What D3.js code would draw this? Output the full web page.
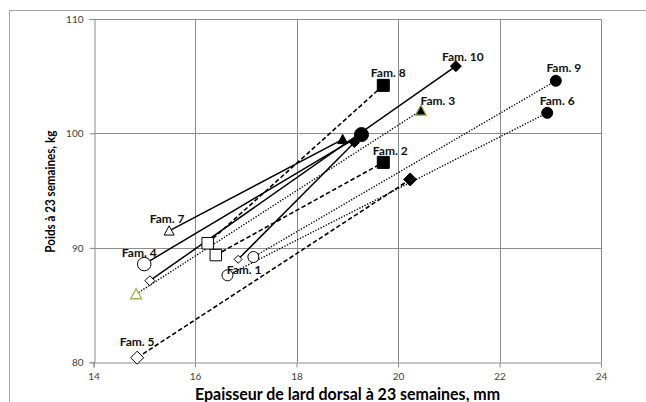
<!DOCTYPE html>
<html>
<head>
<meta charset="utf-8">
<script src="https://cdn.jsdelivr.net/npm/d3@7"></script>
<style>
  html, body { margin: 0; padding: 0; background: #fff; }
  svg { display: block; font-family: Lato, "Liberation Sans", sans-serif; }
</style>
</head>
<body>
<svg id="chart" width="646" height="402"></svg>
<script>
// ---- data ----
const families = ["Fam. 1", "Fam. 2", "Fam. 3", "Fam. 4", "Fam. 5", "Fam. 6", "Fam. 7", "Fam. 8", "Fam. 9", "Fam. 10"];
// backfat thickness (mm) and weight (kg) at 23 weeks, open-marker end
const backfatOpen = [16.85, 16.41, 14.84, 15.00, 14.86, 16.64, 15.49, 16.25, 17.15, 15.11];
const weightOpen  = [89.0, 89.37, 85.96, 88.58, 80.4, 87.6, 91.49, 90.4, 89.2, 87.13];
// filled-marker end
const backfatFilled = [19.14, 19.71, 20.45, 19.28, 20.24, 22.94, 18.91, 19.71, 23.11, 21.14];
const weightFilled  = [99.2, 97.47, 102.0, 99.9, 95.98, 101.8, 99.48, 104.2, 104.6, 105.88];
const xTicks = [14, 16, 18, 20, 22, 24];
const yTicks = [80, 90, 100, 110];
const xTitle = "Epaisseur de lard dorsal à 23 semaines, mm";
const yTitle = "Poids à 23 semaines, kg";

// ---- styles (per family) ----
const lineStyle = ["solid", "dashed", "dotted", "solid", "dashed", "dotted", "solid", "dashed", "dotted", "solid"];
const shape = ["diamond", "square", "triangle", "circle", "diamond", "circle", "triangle", "square", "circle", "diamond"];
const sizeOpen   = [8, 11.5, 11, 13.5, 13, 11, 10, 11.5, 11, 10];
const sizeFilled = [10, 12, 11, 14, 13, 11, 10, 12, 11, 11];
const edgeColor  = ["#000", "#000", "#9BBB59", "#000", "#000", "#000", "#000", "#000", "#000", "#000"];
// label attachment: which end and offset in px (centre of text)
const labelEnd = ["open", "filled", "filled", "open", "open", "filled", "open", "filled", "filled", "filled"];
const labelDx = [6, 7, 17, -5, 0, 10, -2, 5, 8, 7];
const labelDy = [10, -12, -10, -11.5, -16, -12, -12.7, -13, -13, -10];

const svg = d3.select("#chart");

// outer chart frame
svg.append("rect").attr("x", 9.5).attr("y", 10.5).attr("width", 700).attr("height", 500)
  .attr("fill", "none").attr("stroke", "#a6a6a6").attr("stroke-width", 1);

const x = d3.scaleLinear().domain([14, 24]).range([93.5, 601]);
const y = d3.scaleLinear().domain([80, 110]).range([362.3, 19]);

// gridlines
const grid = svg.append("g");
grid.selectAll("line.v").data(xTicks.slice(1)).join("line")
  .attr("x1", d => Math.round(x(d)) + 0.5).attr("x2", d => Math.round(x(d)) + 0.5)
  .attr("y1", y(110)).attr("y2", y(80))
  .attr("stroke", "#8c8c8c").attr("stroke-width", 1);
grid.selectAll("line.h").data(yTicks.slice(1)).join("line")
  .attr("y1", d => Math.round(y(d)) + 0.5).attr("y2", d => Math.round(y(d)) + 0.5)
  .attr("x1", x(14)).attr("x2", x(24))
  .attr("stroke", "#8c8c8c").attr("stroke-width", 1);

// axes
const xAxis = d3.axisBottom(x).tickValues(xTicks).tickSize(5).tickPadding(5).tickFormat(d3.format("d"));
const yAxis = d3.axisLeft(y).tickValues(yTicks).tickSize(5).tickPadding(6).tickFormat(d3.format("d"));
const gx = svg.append("g").attr("transform", `translate(0,${Math.round(y(80)) + 0.5})`).call(xAxis);
const gy = svg.append("g").attr("transform", `translate(${Math.round(x(14)) + 0.5},0)`).call(yAxis);
[gx, gy].forEach(g => {
  g.select(".domain").attr("stroke", "#8c8c8c");
  g.selectAll(".tick line").attr("stroke", "#8c8c8c");
  g.selectAll(".tick text").attr("fill", "#404040").style("font-size", "10px").style("font-family", "Lato, sans-serif");
});

// axis titles
svg.append("text").attr("x", 347.5).attr("y", 399.5).attr("text-anchor", "middle")
  .attr("textLength", 305).attr("lengthAdjust", "spacingAndGlyphs")
  .style("font-size", "17px").style("font-weight", "bold").attr("fill", "#000").text(xTitle);
svg.append("text").attr("transform", "translate(55,191.7) rotate(-90)").attr("text-anchor", "middle")
  .attr("textLength", 122).attr("lengthAdjust", "spacingAndGlyphs")
  .style("font-size", "13.5px").style("font-weight", "bold").attr("fill", "#000").text(yTitle);

// series table
const rows = families.map((f, i) => ({
  name: f, i,
  x0: backfatOpen[i], y0: weightOpen[i],
  x1: backfatFilled[i], y1: weightFilled[i]
}));

const dash = { solid: null, dashed: "4.5,2.5", dotted: "1.3,1.6" };
const widthOf = { solid: 1.5, dashed: 1.6, dotted: 1.4 };

svg.append("g").selectAll("line").data(rows).join("line")
  .attr("x1", d => x(d.x0)).attr("y1", d => y(d.y0))
  .attr("x2", d => x(d.x1)).attr("y2", d => y(d.y1))
  .attr("stroke", "#000")
  .attr("stroke-width", d => widthOf[lineStyle[d.i]])
  .attr("stroke-dasharray", d => dash[lineStyle[d.i]]);

function markerPath(kind, cx, cy, s) {
  const h = s / 2;
  if (kind === "diamond") return `M${cx},${cy - h}L${cx + h},${cy}L${cx},${cy + h}L${cx - h},${cy}Z`;
  if (kind === "square") return `M${cx - h},${cy - h}H${cx + h}V${cy + h}H${cx - h}Z`;
  if (kind === "triangle") return `M${cx},${cy - h}L${cx + h},${cy + h * 0.85}L${cx - h},${cy + h * 0.85}Z`;
  // circle
  return `M${cx - h},${cy}A${h},${h} 0 1,0 ${cx + h},${cy}A${h},${h} 0 1,0 ${cx - h},${cy}Z`;
}

const marks = [];
rows.forEach(d => {
  marks.push({ i: d.i, open: true, px: x(d.x0), py: y(d.y0) });
  marks.push({ i: d.i, open: false, px: x(d.x1), py: y(d.y1) });
});
svg.append("g").selectAll("path").data(marks).join("path")
  .attr("d", m => markerPath(shape[m.i], m.px, m.py, m.open ? sizeOpen[m.i] : sizeFilled[m.i]))
  .attr("fill", m => m.open ? "#fff" : "#000")
  .attr("stroke", m => edgeColor[m.i])
  .attr("stroke-width", m => edgeColor[m.i] === "#000" ? 1 : 1.3);

// data labels
svg.append("g").selectAll("text").data(rows).join("text")
  .attr("x", d => (labelEnd[d.i] === "open" ? x(d.x0) : x(d.x1)) + labelDx[d.i])
  .attr("y", d => (labelEnd[d.i] === "open" ? y(d.y0) : y(d.y1)) + labelDy[d.i])
  .attr("text-anchor", "middle").attr("dominant-baseline", "central")
  .style("font-size", "12px").style("font-weight", "bold").attr("fill", "#111")
  .text(d => d.name);
</script>
</body>
</html>
